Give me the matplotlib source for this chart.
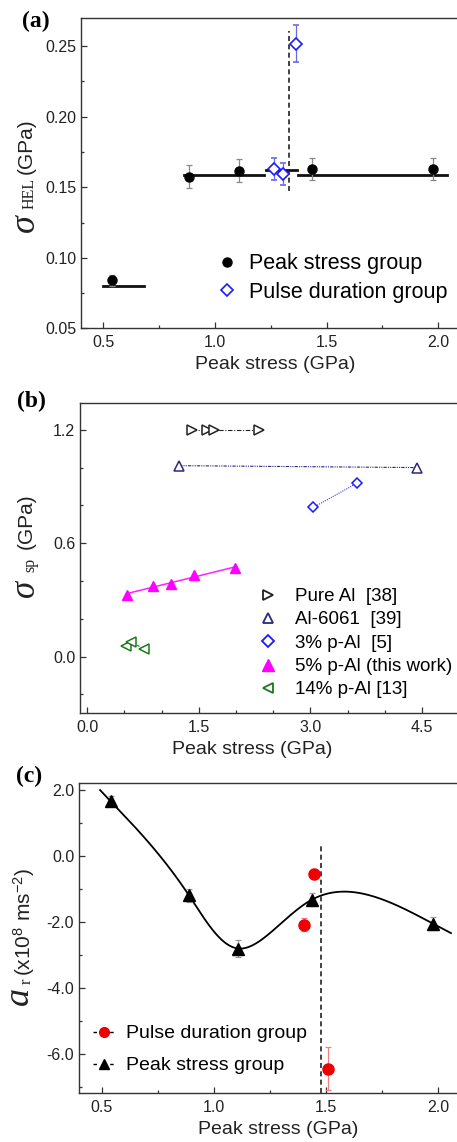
import numpy as np
import matplotlib
matplotlib.use("Agg")
import matplotlib.pyplot as plt
from matplotlib.ticker import MultipleLocator, FormatStrFormatter
from matplotlib.lines import Line2D

plt.rcParams['font.family'] = ['Liberation Sans', 'DejaVu Sans']
plt.rcParams['mathtext.fontset'] = 'custom'
plt.rcParams['mathtext.rm'] = 'Liberation Sans'
plt.rcParams['mathtext.it'] = 'Liberation Sans:italic'
plt.rcParams['mathtext.bf'] = 'Liberation Sans:bold'
plt.rcParams['axes.unicode_minus'] = False

# (a) HEL stress
hel_peak_x = [0.54, 0.885, 1.106, 1.436, 1.975]
hel_peak_y = [0.084, 0.1575, 0.1618, 0.163, 0.163]
hel_peak_err = [0.004, 0.008, 0.008, 0.008, 0.008]
hel_pulse_x = [1.264, 1.303, 1.361]
hel_pulse_y = [0.163, 0.1594, 0.2517]
hel_pulse_err = [0.008, 0.008, 0.013]
# horizontal level segments: (x_start, x_end, level)
hel_levels = [(0.50, 0.68, 0.080), (0.863, 1.22, 0.159), (1.227, 1.366, 0.1623), (1.37, 2.04, 0.159)]
hel_split_x = 1.33
hel_split_y = (0.147, 0.261)

# (b) spall strength
pure_al_x = [1.405, 1.607, 1.71, 2.31]
pure_al_y = [1.2, 1.2, 1.2, 1.2]
al6061_x = [1.234, 4.44]
al6061_y = [1.01, 1.0]
p3_x = [3.04, 3.63]
p3_y = [0.789, 0.918]
p5_x = [0.538, 0.888, 1.127, 1.436, 1.988]
p5_y = [0.327, 0.376, 0.385, 0.432, 0.468]
p14_x = [0.521, 0.588, 0.767]
p14_y = [0.058, 0.079, 0.039]

# (c) acceleration
acc_peak_x = [0.541, 0.889, 1.108, 1.436, 1.977]
acc_peak_y = [1.65, -1.2, -2.81, -1.33, -2.06]
acc_peak_err = [0.15, 0.2, 0.25, 0.2, 0.2]
acc_pulse_x = [1.399, 1.445, 1.51]
acc_pulse_y = [-2.09, -0.545, -6.45]
acc_pulse_err = [0.2, 0.1, 0.65]
acc_split_x = 1.475
acc_split_top = 0.33

SPINE = '#333333'
TXT = '#222222'


def natural_spline(x, y, xs):
    x = np.asarray(x, float)
    y = np.asarray(y, float)
    n = len(x)
    h = np.diff(x)
    A = np.zeros((n, n))
    rhs = np.zeros(n)
    A[0, 0] = 1.0
    A[-1, -1] = 1.0
    for i in range(1, n - 1):
        A[i, i - 1] = h[i - 1]
        A[i, i] = 2 * (h[i - 1] + h[i])
        A[i, i + 1] = h[i]
        rhs[i] = 6 * ((y[i + 1] - y[i]) / h[i] - (y[i] - y[i - 1]) / h[i - 1])
    M = np.linalg.solve(A, rhs)
    idx = np.clip(np.searchsorted(x, xs) - 1, 0, n - 2)
    x0, x1 = x[idx], x[idx + 1]
    hh = x1 - x0
    return (M[idx] * (x1 - xs) ** 3 / (6 * hh) + M[idx + 1] * (xs - x0) ** 3 / (6 * hh)
            + (y[idx] / hh - M[idx] * hh / 6) * (x1 - xs)
            + (y[idx + 1] / hh - M[idx + 1] * hh / 6) * (xs - x0))


def param_spline(x, y, sx, sy, ext0, ext1, n=400):
    # chord-length parametrised spline, chords measured in screen pixels
    px = np.asarray(x) * sx
    py = np.asarray(y) * sy
    t = np.concatenate([[0], np.cumsum(np.hypot(np.diff(px), np.diff(py)))])
    ts = np.linspace(-ext0, t[-1] + ext1, n)
    return natural_spline(t, px, ts) / sx, natural_spline(t, py, ts) / sy


def style_axes(ax):
    for s in ax.spines.values():
        s.set_color(SPINE)
        s.set_linewidth(1.0)
    ax.tick_params(which='both', direction='in', colors=SPINE, labelcolor=TXT,
                   labelsize=11.5, width=0.9, top=False, right=False)
    ax.tick_params(which='major', length=4)
    ax.tick_params(axis='x', pad=5)
    ax.tick_params(which='minor', length=2.5)


W, H = 457, 1142
fig = plt.figure(figsize=(W / 100, H / 100), dpi=100)


def px_axes(left, top, right, bottom):
    return fig.add_axes([left / W, 1 - bottom / H, (right - left) / W, (bottom - top) / H])


def vtext(x, y, s, **kw):
    fig.text(x / W, 1 - y / H, s, rotation=90, ha='center', va='center', color=TXT, **kw)


def panel_label(x, y, s):
    fig.text(x / W, 1 - y / H, s, fontsize=17, fontweight='bold',
             family='Liberation Serif', ha='left', va='center')


# ---------- (a) ----------
ax = px_axes(81, 18, 462, 328.3)
for x0, x1, lev in hel_levels:
    ax.plot([x0, x1], [lev, lev], color='#111111', lw=2.0, zorder=2)
ax.plot([hel_split_x, hel_split_x], hel_split_y, color='#222222', lw=1.2, ls=(0, (3, 2)), zorder=2)
ax.errorbar(hel_peak_x, hel_peak_y, yerr=hel_peak_err, fmt='o', color='black', ms=6.5,
            ecolor='#888888', elinewidth=0.9, capsize=2.5, capthick=0.9, zorder=3)
ax.errorbar(hel_pulse_x, hel_pulse_y, yerr=hel_pulse_err, fmt='D', mfc='white', mec='#1a1aff',
            mew=1.2, ms=6, ecolor='#6a6ae0', elinewidth=0.9, capsize=2.5, capthick=0.9, zorder=4)
ax.set_xlim(0.4, 2.106)
ax.set_ylim(0.05, 0.27)
ax.xaxis.set_major_locator(MultipleLocator(0.5))
ax.xaxis.set_minor_locator(MultipleLocator(0.25))
ax.yaxis.set_major_locator(MultipleLocator(0.05))
ax.yaxis.set_minor_locator(MultipleLocator(0.025))
ax.xaxis.set_major_formatter(FormatStrFormatter('%.1f'))
ax.yaxis.set_major_formatter(FormatStrFormatter('%.2f'))
style_axes(ax)
ax.set_xlabel('Peak stress (GPa)', fontsize=14, color=TXT)
ax.xaxis.set_label_coords((274.7 - 81) / 381, -0.09)
handles = [Line2D([], [], ls='none', marker='o', color='black', ms=6.5),
           Line2D([], [], ls='none', marker='D', mfc='white', mec='#1a1aff', mew=1.2, ms=6)]
ax.legend(handles, ['Peak stress group', 'Pulse duration group'], loc='lower left',
          bbox_to_anchor=(0.354, 0.082), frameon=False, fontsize=15.5, handlelength=1.0,
          handletextpad=0.55, labelspacing=0.35, borderpad=0, borderaxespad=0)
vtext(25, 223, 'σ', fontsize=26, family='Liberation Serif', style='italic')
vtext(30, 193, 'HEL', fontsize=11.5, family='Liberation Serif')
vtext(26, 146, '(GPa)', fontsize=15)
panel_label(22, 21, '(a)')

# ---------- (b) ----------
ax = px_axes(80, 403.3, 462, 713.3)
ax.plot(pure_al_x, pure_al_y, color='#222222', lw=0.8, ls=(0, (4, 1.5, 1, 1.5)),
        marker='>', mfc='white', mec='#222222', mew=1.1, ms=6.5)
ax.plot(al6061_x, al6061_y, color='#2a2a7a', lw=0.8, ls=(0, (3, 1, 1, 1, 1, 1)),
        marker='^', mfc='white', mec='#2a2a7a', mew=1.1, ms=6.5)
ax.plot(p3_x, p3_y, color='#4040e0', lw=0.8, ls=(0, (1, 1)),
        marker='D', mfc='white', mec='#1a1aff', mew=1.1, ms=5.5)
coef = np.polyfit(p5_x, p5_y, 1)
fit_x = np.array([p5_x[0], p5_x[-1]])
ax.plot(fit_x, np.polyval(coef, fit_x), color='#ff22ff', lw=1.1)
ax.plot(p5_x, p5_y, ls='none', marker='^', color='#ff00ff', ms=7.5)
ax.plot(p14_x, p14_y, color='#1a7a1a', lw=0.8, ls=(0, (2.5, 1.5)),
        marker='<', mfc='white', mec='#1a7a1a', mew=1.1, ms=6.5)
ax.set_xlim(-0.098, 5.04)
ax.set_ylim(-0.3, 1.34)
ax.xaxis.set_major_locator(MultipleLocator(1.5))
ax.xaxis.set_minor_locator(MultipleLocator(0.5))
ax.yaxis.set_major_locator(MultipleLocator(0.6))
ax.yaxis.set_minor_locator(MultipleLocator(0.2))
ax.xaxis.set_major_formatter(FormatStrFormatter('%.1f'))
ax.yaxis.set_major_formatter(FormatStrFormatter('%.1f'))
style_axes(ax)
ax.set_xlabel('Peak stress (GPa)', fontsize=14, color=TXT)
ax.xaxis.set_label_coords((251.7 - 80) / 382, -0.09)
handles = [Line2D([], [], ls='none', marker='>', mfc='white', mec='#222222', mew=1.3, ms=7),
           Line2D([], [], ls='none', marker='^', mfc='white', mec='#2a2a7a', mew=1.3, ms=7),
           Line2D([], [], ls='none', marker='D', mfc='white', mec='#1a1aff', mew=1.3, ms=6),
           Line2D([], [], ls='none', marker='^', color='#ff00ff', ms=8),
           Line2D([], [], ls='none', marker='<', mfc='white', mec='#1a7a1a', mew=1.3, ms=7)]
labels = ['Pure Al  [38]', 'Al-6061  [39]', '3% p-Al  [5]', '5% p-Al (this work)', '14% p-Al [13]']
ax.legend(handles, labels, loc='lower left', bbox_to_anchor=(0.4675, 0.048), frameon=False,
          fontsize=13.5, handlelength=1.0, handletextpad=0.92, labelspacing=0.33,
          borderpad=0, borderaxespad=0)
vtext(25, 588, 'σ', fontsize=25, family='Liberation Serif', style='italic')
vtext(30, 565, 'sp', fontsize=11.5, family='Liberation Serif')
vtext(26, 521, '(GPa)', fontsize=15)
panel_label(17, 401, '(b)')

# ---------- (c) ----------
ax = px_axes(79, 783.3, 462, 1093.3)
cx, cy = param_spline(acc_peak_x, acc_peak_y, 224.6, 33.0, 17, 17.5)
ax.plot(cx, cy, color='black', lw=1.3, zorder=2)
ax.plot([acc_split_x, acc_split_x], [-7.2, acc_split_top], color='#222222', lw=1.2,
        ls=(0, (3, 2)), zorder=2)
ax.errorbar(acc_peak_x, acc_peak_y, yerr=acc_peak_err, fmt='^', color='black', ms=8,
            ecolor='#999999', elinewidth=0.9, capsize=2.5, capthick=0.9, zorder=3)
ax.errorbar(acc_pulse_x, acc_pulse_y, yerr=acc_pulse_err, fmt='o', color='#ee0000', ms=8,
            ecolor='#f08080', elinewidth=0.9, capsize=2.5, capthick=0.9, zorder=4)
ax.set_xlim(0.399, 2.105)
ax.set_ylim(-7.2, 2.2)
ax.xaxis.set_major_locator(MultipleLocator(0.5))
ax.xaxis.set_minor_locator(MultipleLocator(0.25))
ax.yaxis.set_major_locator(MultipleLocator(2.0))
ax.yaxis.set_minor_locator(MultipleLocator(1.0))
ax.xaxis.set_major_formatter(FormatStrFormatter('%.1f'))
ax.yaxis.set_major_formatter(FormatStrFormatter('%.1f'))
style_axes(ax)
ax.set_xlabel('Peak stress (GPa)', fontsize=14, color=TXT)
ax.xaxis.set_label_coords((278 - 79) / 383, -0.09)
handles = [Line2D([], [], color='black', lw=1.0, dashes=(2.5, 9.5), marker='o',
                  mfc='#ee0000', mec='#ee0000', ms=7),
           Line2D([], [], color='black', lw=1.0, dashes=(2.5, 9.5), marker='^', ms=7)]
ax.legend(handles, ['Pulse duration group', 'Peak stress group'], loc='lower left',
          bbox_to_anchor=(0.0366, 0.061), frameon=False, fontsize=14, handlelength=1.1,
          handletextpad=0.6, labelspacing=0.74, borderpad=0, borderaxespad=0)
vtext(19, 996, 'a', fontsize=26, family='Liberation Serif', style='italic')
vtext(27, 981, 'r', fontsize=12, family='Liberation Serif')
vtext(24, 922, r'(x10$^{8}$ ms$^{-2}$)', fontsize=15)
panel_label(16, 776, '(c)')

fig.savefig('out.png', dpi=100)
